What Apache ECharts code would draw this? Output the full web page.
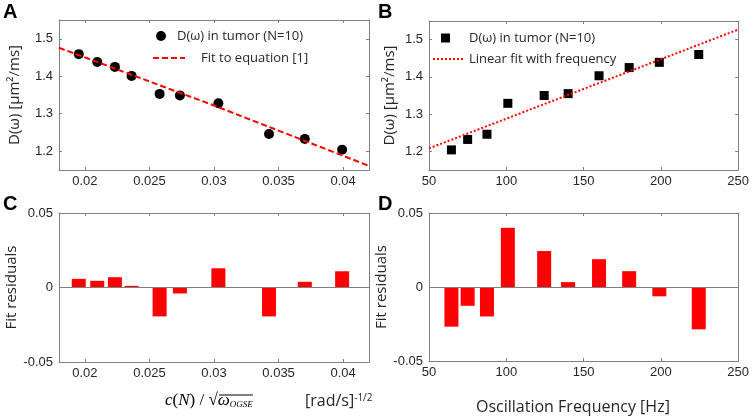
<!DOCTYPE html>
<html><head><meta charset="utf-8">
<script src="https://cdn.jsdelivr.net/npm/echarts@6/dist/echarts.min.js"></script>
<style>html,body{margin:0;padding:0;background:#fff}#c{width:752px;height:418px}</style>
</head><body><div id="c"></div>
<script>
// Panel A: D(omega) vs c(N)/sqrt(omega)
const xA = [0.01953, 0.02096, 0.02233, 0.02362, 0.02579, 0.02736, 0.03034, 0.03426, 0.03703, 0.03992];
const dA = [1.459, 1.438, 1.425, 1.401, 1.353, 1.349, 1.328, 1.246, 1.233, 1.204];
const fitAx = [0.018, 0.03, 0.042];
const fitAy = [1.476, 1.322, 1.161];
// Panel B: D(omega) vs oscillation frequency
const freqB = [64.5, 75, 87.5, 101, 124.5, 140, 160, 179.5, 199, 224.5];
const dB = [1.204, 1.232, 1.246, 1.329, 1.350, 1.355, 1.403, 1.425, 1.439, 1.460];
const fitBx = [50, 250];
const fitBy = [1.208, 1.527];
// Panel C / D residuals
const resC = [0.0058, 0.0045, 0.0069, 0.0011, -0.0194, -0.0040, 0.0129, -0.0194, 0.0038, 0.0109];
const resD = [-0.0268, -0.0127, -0.0199, 0.0400, 0.0243, 0.0033, 0.0188, 0.0107, -0.0063, -0.0286];
// Tick labels
const ticksCx = [0.02, 0.025, 0.03, 0.035, 0.04];
const ticksDy = [1.2, 1.3, 1.4, 1.5];

const nameScatter = 'D(\u03C9) in tumor (N=10)';
const nameFitA = 'Fit to equation [1]';
const nameFitB = 'Linear fit with frequency';

const axisCol = '#7f7f7f';
const txtCol = '#262626';
const tickFont = 'Liberation Sans';
const titleFont = 'Open Sans';

function pair(xs, ys) { return xs.map((x, i) => [x, ys[i]]); }

function xAx(grid, min, max, opts, mirror) {
  const o = {
    type: 'value', gridIndex: grid, min: min, max: max,
    position: mirror ? 'top' : 'bottom',
    splitLine: { show: false },
    axisLine: { show: true, onZero: false, lineStyle: { color: axisCol, width: 1 } },
    axisTick: { show: true, inside: true, length: 3, lineStyle: { color: axisCol } },
    axisLabel: { show: !mirror, color: txtCol, fontFamily: tickFont, fontSize: 13, margin: 5 }
  };
  if (opts.interval) o.interval = opts.interval;
  if (opts.custom) {
    o.axisTick.customValues = opts.custom;
    o.axisLabel.customValues = opts.custom;
  }
  return o;
}
function yAx(grid, min, max, opts, mirror) {
  const o = {
    type: 'value', gridIndex: grid, min: min, max: max,
    position: mirror ? 'right' : 'left',
    splitLine: { show: false },
    axisLine: { show: true, onZero: false, lineStyle: { color: axisCol, width: 1 } },
    axisTick: { show: true, inside: true, length: 3, lineStyle: { color: axisCol } },
    axisLabel: { show: !mirror, color: txtCol, fontFamily: tickFont, fontSize: 13, margin: 6 }
  };
  if (opts.interval) o.interval = opts.interval;
  if (opts.custom) {
    o.axisTick.customValues = opts.custom;
    o.axisLabel.customValues = opts.custom;
  }
  if (!mirror && opts.name) {
    o.name = opts.name;
    o.nameLocation = 'middle';
    o.nameGap = opts.gap;
    o.nameTextStyle = { color: txtCol, fontFamily: titleFont, fontSize: 15 };
  }
  return o;
}

const legendText = { color: txtCol, fontFamily: titleFont, fontSize: 13, lineHeight: 16 };
const hideDot = { opacity: 0 };

const option = {
  animation: false,
  backgroundColor: '#ffffff',
  grid: [
    { left: 59, right: 383, top: 20, height: 150 },
    { left: 429, right: 12, top: 21, height: 149 },
    { left: 59, right: 383, top: 213, height: 149 },
    { left: 429, right: 12, top: 213, height: 148 }
  ],
  xAxis: [
    xAx(0, 0.018, 0.042, { custom: ticksCx }, false),
    xAx(0, 0.018, 0.042, { custom: ticksCx }, true),
    xAx(1, 50, 250, { interval: 50 }, false),
    xAx(1, 50, 250, { interval: 50 }, true),
    xAx(2, 0.018, 0.042, { custom: ticksCx }, false),
    xAx(2, 0.018, 0.042, { custom: ticksCx }, true),
    xAx(3, 50, 250, { interval: 50 }, false),
    xAx(3, 50, 250, { interval: 50 }, true)
  ],
  yAxis: [
    yAx(0, 1.15, 1.55, { custom: ticksDy, name: 'D(\u03C9) [\u03BCm\u00B2/ms]', gap: 37 }, false),
    yAx(0, 1.15, 1.55, { custom: ticksDy }, true),
    yAx(1, 1.15, 1.55, { custom: ticksDy, name: 'D(\u03C9) [\u03BCm\u00B2/ms]', gap: 32 }, false),
    yAx(1, 1.15, 1.55, { custom: ticksDy }, true),
    yAx(2, -0.05, 0.05, { interval: 0.05, name: 'Fit residuals', gap: 37 }, false),
    yAx(2, -0.05, 0.05, { interval: 0.05 }, true),
    yAx(3, -0.05, 0.05, { interval: 0.05, name: 'Fit residuals', gap: 32 }, false),
    yAx(3, -0.05, 0.05, { interval: 0.05 }, true)
  ],
  legend: [
    { data: [{ name: nameScatter, icon: 'circle' }], left: 156, top: 28, padding: 0,
      itemWidth: 22, itemHeight: 10, textStyle: legendText, selectedMode: false },
    { data: [nameFitA], left: 152, top: 50, padding: 0, itemStyle: hideDot,
      itemWidth: 32, itemHeight: 10, textStyle: Object.assign({}, legendText, { padding: [0, 0, 0, 11] }), selectedMode: false },
    { data: [{ name: nameScatter, icon: 'rect' }], left: 441, top: 30, padding: 0,
      itemWidth: 9, itemHeight: 9, textStyle: Object.assign({}, legendText, { padding: [0, 0, 0, 14] }), selectedMode: false },
    { data: [nameFitB], left: 432, top: 51, padding: 0, itemStyle: hideDot,
      itemWidth: 31, itemHeight: 10, textStyle: legendText, selectedMode: false }
  ],
  series: [
    { name: nameScatter, type: 'scatter', xAxisIndex: 0, yAxisIndex: 0, symbol: 'circle', symbolSize: 10,
      itemStyle: { color: '#000', opacity: 1 }, data: pair(xA, dA), z: 3 },
    { name: nameFitA, type: 'line', xAxisIndex: 0, yAxisIndex: 0, symbol: 'none', showSymbol: false,
      lineStyle: { color: '#ff0000', width: 2, type: [6, 3] }, itemStyle: { color: '#ff0000' },
      data: pair(fitAx, fitAy), z: 4 },
    { name: nameScatter, type: 'scatter', xAxisIndex: 2, yAxisIndex: 2, symbol: 'rect', symbolSize: 9,
      itemStyle: { color: '#000', opacity: 1 }, data: pair(freqB, dB), z: 3 },
    { name: nameFitB, type: 'line', xAxisIndex: 2, yAxisIndex: 2, symbol: 'none', showSymbol: false,
      lineStyle: { color: '#ff0000', width: 2, type: [2, 2] }, itemStyle: { color: '#ff0000' },
      data: pair(fitBx, fitBy), z: 4 },
    { name: 'resC', type: 'bar', xAxisIndex: 4, yAxisIndex: 4, barWidth: 14,
      itemStyle: { color: '#ff0000' }, data: pair(xA, resC),
      markLine: { silent: true, symbol: 'none', label: { show: false },
        lineStyle: { color: '#808080', width: 1, type: 'solid' }, data: [{ yAxis: 0 }] } },
    { name: 'resD', type: 'bar', xAxisIndex: 6, yAxisIndex: 6, barWidth: 14,
      itemStyle: { color: '#ff0000' }, data: pair(freqB, resD),
      markLine: { silent: true, symbol: 'none', label: { show: false },
        lineStyle: { color: '#808080', width: 1, type: 'solid' }, data: [{ yAxis: 0 }] } }
  ],
  graphic: [
    { type: 'text', left: 3, top: 2, style: { text: 'A', fontFamily: 'Liberation Sans', fontWeight: 'bold', fontSize: 20, fill: '#000' } },
    { type: 'text', left: 378, top: 2, style: { text: 'B', fontFamily: 'Liberation Sans', fontWeight: 'bold', fontSize: 20, fill: '#000' } },
    { type: 'text', left: 3, top: 194, style: { text: 'C', fontFamily: 'Liberation Sans', fontWeight: 'bold', fontSize: 20, fill: '#000' } },
    { type: 'text', left: 378, top: 194, style: { text: 'D', fontFamily: 'Liberation Sans', fontWeight: 'bold', fontSize: 20, fill: '#000' } },
    { type: 'text', left: 476, top: 399, style: { text: 'Oscillation Frequency [Hz]', fontFamily: titleFont, fontSize: 16, fill: txtCol } },
    { type: 'text', left: 165, top: 392, style: {
        text: '{it|c}{rm|(}{it|N}{rm|) / \u221A}{it|\u03C9}{sub|OGSE}',
        rich: {
          it: { fontFamily: 'Liberation Serif', fontStyle: 'italic', fontSize: 17, fill: '#000', verticalAlign: 'bottom' },
          rm: { fontFamily: 'Liberation Serif', fontSize: 17, fill: '#000', verticalAlign: 'bottom' },
          sub: { fontFamily: 'Liberation Serif', fontStyle: 'italic', fontSize: 9, fill: '#000', verticalAlign: 'bottom' }
        } } },
    { type: 'line', shape: { x1: 219, y1: 395, x2: 253, y2: 395 }, style: { stroke: '#000', lineWidth: 1 } },
    { type: 'text', left: 305, top: 393, style: {
        text: '{a|[rad/s]}{s|-1/2}',
        rich: {
          a: { fontFamily: titleFont, fontSize: 16, fill: txtCol, verticalAlign: 'bottom' },
          s: { fontFamily: titleFont, fontSize: 10, fill: txtCol, verticalAlign: 'top' }
        } } }
  ]
};
const chart = echarts.init(document.getElementById('c'), null, { renderer: 'canvas' });
chart.setOption(option);
</script></body></html>
